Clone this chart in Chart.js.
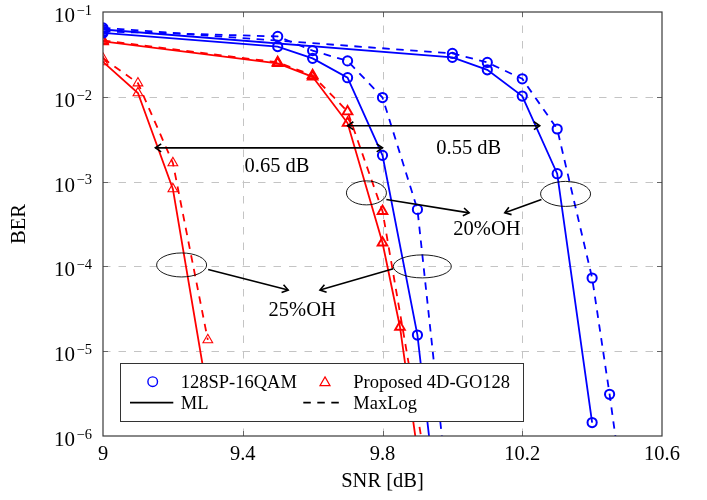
<!DOCTYPE html>
<html>
<head>
<meta charset="utf-8">
<script src="https://cdn.jsdelivr.net/npm/chart.js@4.4.1/dist/chart.umd.min.js"></script>
<style>
    html, body { margin: 0; padding: 0; background: #fff; }
    #wrap { width: 707px; height: 500px; }
</style>
</head>
<body>
<div id="wrap"><canvas id="berChart" width="707" height="500"></canvas></div>
<script>
// 128SP-16QAM, 25% OH
const snrSp25Ml = [9, 9.5, 9.6, 9.7, 9.8, 9.9, 9.95];
const berSp25Ml = [5.66e-2, 3.91e-2, 2.84e-2, 1.68e-2, 2.04e-3, 1.55e-5, 2.5e-7];
const snrSp25MaxLog = [9, 9.5, 9.6, 9.7, 9.8, 9.9, 10.0];
const berSp25MaxLog = [5.9e-2, 5.15e-2, 3.5e-2, 2.65e-2, 9.8e-3, 4.7e-4, 7e-8];

// 128SP-16QAM, 20% OH
const snrSp20Ml = [9, 10, 10.1, 10.2, 10.3, 10.4];
const berSp20Ml = [6.22e-2, 2.92e-2, 2.08e-2, 1.02e-2, 1.24e-3, 1.44e-6];
const snrSp20MaxLog = [9, 10, 10.1, 10.2, 10.3, 10.4, 10.45, 10.5];
const berSp20MaxLog = [6.5e-2, 3.25e-2, 2.54e-2, 1.63e-2, 4.17e-3, 7.3e-5, 3.1e-6, 1e-7];

// Proposed 4D-GO128, 25% OH
const snrGo25 = [9, 9.1, 9.2, 9.3];
const berGo25Ml = [2.58e-2, 1.11e-2, 8.2e-4, 3e-6];
const berGo25MaxLog = [2.84e-2, 1.45e-2, 1.66e-3, 1.36e-5];

// Proposed 4D-GO128, 20% OH
const snrGo20Ml = [9, 9.5, 9.6, 9.7, 9.8, 9.85, 9.9];
const berGo20Ml = [4.5e-2, 2.48e-2, 1.72e-2, 4.9e-3, 1.9e-4, 1.93e-5, 6.6e-7];
const snrGo20MaxLog = [9, 9.5, 9.6, 9.7, 9.8, 9.9, 9.95];
const berGo20MaxLog = [4.62e-2, 2.55e-2, 1.79e-2, 6.7e-3, 4.48e-4, 1.8e-6, 1e-7];

// axes
const xTicks = [9, 9.4, 9.8, 10.2, 10.6];
const xTickLabels = ['9', '9.4', '9.8', '10.2', '10.6'];
const yDecades = [-1, -2, -3, -4, -5, -6];

const BLUE = '#0000ff';
const RED = '#ff0000';
const FONT = '"Liberation Serif", "DejaVu Serif", serif';

// annotations: SNR gaps and overhead groups (data coordinates)
const gapArrows = [
    {text: '0.65 dB', from: 9.15, to: 9.8, ber: 2.5e-3, textX: 9.498, textBer: 1.54e-3},
    {text: '0.55 dB', from: 9.7, to: 10.25, ber: 4.56e-3, textX: 10.047, textBer: 2.51e-3},
];
const ohGroups = [
    {
        text: '20%OH', x: 10.099, ber: 2.78e-4,
        rings: [
            {x: 9.754, ber: 7.36e-4, rx: 20, ry: 12, fromX: 9.811, fromBer: 6.14e-4, toX: 10.048, toBer: 4.28e-4},
            {x: 10.324, ber: 7.16e-4, rx: 25, ry: 12.5, fromX: 10.255, fromBer: 6.14e-4, toX: 10.15, toBer: 4.28e-4},
        ]
    },
    {
        text: '25%OH', x: 9.57, ber: 3.12e-5,
        rings: [
            {x: 9.225, ber: 1.04e-4, rx: 25, ry: 12, fromX: 9.301, fromBer: 9.2e-5, toX: 9.53, toBer: 5.26e-5},
            {x: 9.914, ber: 1.0e-4, rx: 29, ry: 11.5, fromX: 9.831, fromBer: 9.4e-5, toX: 9.621, toBer: 5.26e-5},
        ]
    },
];

function series(label, snr, ber, color, dashed, pointStyle, markerWidth) {
    return {
        label: label,
        data: snr.map((x, i) => ({x: x, y: ber[i]})),
        borderColor: color,
        borderWidth: 1.8,
        borderDash: dashed ? [7.5, 6.5] : [],
        pointStyle: pointStyle,
        pointRadius: pointStyle === 'triangle' ? 5.6 : 4.6,
        pointBorderColor: color,
        pointBackgroundColor: 'rgba(0,0,0,0)',
        pointBorderWidth: markerWidth,
        fill: false,
        tension: 0,
    };
}

const datasets = [
    series('SP 25% ML', snrSp25Ml, berSp25Ml, BLUE, false, 'circle', 2),
    series('SP 25% MaxLog', snrSp25MaxLog, berSp25MaxLog, BLUE, true, 'circle', 2),
    series('SP 20% ML', snrSp20Ml, berSp20Ml, BLUE, false, 'circle', 2),
    series('SP 20% MaxLog', snrSp20MaxLog, berSp20MaxLog, BLUE, true, 'circle', 2),
    series('GO 25% ML', snrGo25, berGo25Ml, RED, false, 'triangle', 1.1),
    series('GO 25% MaxLog', snrGo25, berGo25MaxLog, RED, true, 'triangle', 1.1),
    series('GO 20% ML', snrGo20Ml, berGo20Ml, RED, false, 'triangle', 1.9),
    series('GO 20% MaxLog', snrGo20MaxLog, berGo20MaxLog, RED, true, 'triangle', 1.9),
];

function arrowHead(ctx, x, y, dx, dy) {
    const len = Math.hypot(dx, dy);
    const ux = dx / len, uy = dy / len;
    const size = 7, spread = 0.6;
    ctx.beginPath();
    ctx.moveTo(x - size * (ux * Math.cos(spread) - uy * Math.sin(spread)), y - size * (uy * Math.cos(spread) + ux * Math.sin(spread)));
    ctx.lineTo(x, y);
    ctx.lineTo(x - size * (ux * Math.cos(spread) + uy * Math.sin(spread)), y - size * (uy * Math.cos(spread) - ux * Math.sin(spread)));
    ctx.stroke();
}

function drawGrid(chart) {
    const {ctx, chartArea: a, scales: {x, y}} = chart;
    ctx.save();
    ctx.strokeStyle = '#c4c4c4';
    ctx.lineWidth = 1;
    ctx.setLineDash([7.5, 8]);
    xTicks.slice(1, -1).forEach(v => {
        const px = Math.round(x.getPixelForValue(v)) + 0.5;
        ctx.beginPath();
        ctx.moveTo(px, a.bottom);
        ctx.lineTo(px, a.top);
        ctx.stroke();
    });
    yDecades.slice(1, -1).forEach(d => {
        const py = Math.round(y.getPixelForValue(Math.pow(10, d))) + 0.5;
        ctx.beginPath();
        ctx.moveTo(a.left, py);
        ctx.lineTo(a.right, py);
        ctx.stroke();
    });
    ctx.restore();
}

function drawFrame(chart) {
    const {ctx, chartArea: a, scales: {x, y}} = chart;
    ctx.save();
    ctx.strokeStyle = '#666';
    ctx.lineWidth = 1;
    xTicks.slice(1, -1).forEach(v => {
        const px = Math.round(x.getPixelForValue(v)) + 0.5;
        ctx.beginPath();
        ctx.moveTo(px, a.bottom); ctx.lineTo(px, a.bottom - 5);
        ctx.moveTo(px, a.top); ctx.lineTo(px, a.top + 5);
        ctx.stroke();
    });
    yDecades.slice(1, -1).forEach(d => {
        const py = Math.round(y.getPixelForValue(Math.pow(10, d))) + 0.5;
        ctx.beginPath();
        ctx.moveTo(a.left, py); ctx.lineTo(a.left + 5, py);
        ctx.moveTo(a.right, py); ctx.lineTo(a.right - 5, py);
        ctx.stroke();
    });
    ctx.strokeStyle = '#3a3a3a';
    ctx.lineWidth = 1.2;
    ctx.strokeRect(a.left, a.top, a.right - a.left, a.bottom - a.top);
    ctx.restore();
}

function drawNotes(chart) {
    const {ctx, scales: {x, y}} = chart;
    ctx.save();
    ctx.strokeStyle = '#000';
    ctx.fillStyle = '#000';
    ctx.font = '20.5px ' + FONT;
    ctx.textAlign = 'center';
    ctx.textBaseline = 'alphabetic';

    gapArrows.forEach(g => {
        const x1 = x.getPixelForValue(g.from), x2 = x.getPixelForValue(g.to);
        const py = y.getPixelForValue(g.ber);
        ctx.lineWidth = 1.6;
        ctx.beginPath();
        ctx.moveTo(x1, py);
        ctx.lineTo(x2, py);
        ctx.stroke();
        arrowHead(ctx, x1, py, -1, 0);
        arrowHead(ctx, x2, py, 1, 0);
        ctx.fillText(g.text, x.getPixelForValue(g.textX), y.getPixelForValue(g.textBer) + 6.6);
    });

    ohGroups.forEach(g => {
        g.rings.forEach(r => {
            ctx.lineWidth = 0.9;
            ctx.beginPath();
            ctx.ellipse(x.getPixelForValue(r.x), y.getPixelForValue(r.ber), r.rx, r.ry, 0, 0, Math.PI * 2);
            ctx.stroke();
            const fx = x.getPixelForValue(r.fromX), fy = y.getPixelForValue(r.fromBer);
            const tx = x.getPixelForValue(r.toX), ty = y.getPixelForValue(r.toBer);
            ctx.lineWidth = 1.6;
            ctx.beginPath();
            ctx.moveTo(fx, fy);
            ctx.lineTo(tx, ty);
            ctx.stroke();
            arrowHead(ctx, tx, ty, tx - fx, ty - fy);
        });
        ctx.fillText(g.text, x.getPixelForValue(g.x), y.getPixelForValue(g.ber) + 6.6);
    });
    ctx.restore();
}

function drawLegendBox(chart) {
    const ctx = chart.ctx;
    const box = {left: 120.5, top: 363.5, right: 523.5, bottom: 421.5};
    const row1 = 381.7, row2 = 402.7;
    ctx.save();
    ctx.fillStyle = '#fff';
    ctx.fillRect(box.left, box.top, box.right - box.left, box.bottom - box.top);
    ctx.strokeStyle = '#333';
    ctx.lineWidth = 1;
    ctx.strokeRect(box.left, box.top, box.right - box.left, box.bottom - box.top);

    // markers
    ctx.strokeStyle = BLUE;
    ctx.lineWidth = 1.4;
    ctx.beginPath();
    ctx.arc(152.7, row1, 4.8, 0, Math.PI * 2);
    ctx.stroke();
    ctx.strokeStyle = RED;
    ctx.lineWidth = 1.2;
    const tr = 5.8, tx = 325, ty = row1 + 1;
    ctx.beginPath();
    ctx.moveTo(tx, ty - tr);
    ctx.lineTo(tx + tr * 0.866, ty + tr / 2);
    ctx.lineTo(tx - tr * 0.866, ty + tr / 2);
    ctx.closePath();
    ctx.stroke();

    // line styles
    ctx.strokeStyle = '#000';
    ctx.lineWidth = 1.8;
    ctx.beginPath();
    ctx.moveTo(130, row2);
    ctx.lineTo(173.3, row2);
    ctx.stroke();
    ctx.setLineDash([7.5, 6.5]);
    ctx.beginPath();
    ctx.moveTo(303.3, row2);
    ctx.lineTo(341.7, row2);
    ctx.stroke();
    ctx.setLineDash([]);

    ctx.fillStyle = '#000';
    ctx.font = '18.5px ' + FONT;
    ctx.textAlign = 'left';
    ctx.textBaseline = 'alphabetic';
    ctx.fillText('128SP-16QAM', 180.7, row1 + 6);
    ctx.fillText('Proposed 4D-GO128', 353.3, row1 + 6);
    ctx.fillText('ML', 180.7, row2 + 6);
    ctx.fillText('MaxLog', 353.3, row2 + 6);
    ctx.restore();
}

function drawAxisText(chart) {
    const {ctx, chartArea: a, scales: {x, y}} = chart;
    ctx.save();
    ctx.fillStyle = '#000';
    ctx.textBaseline = 'alphabetic';

    ctx.font = '20.5px ' + FONT;
    ctx.textAlign = 'center';
    xTicks.forEach((v, i) => {
        ctx.fillText(xTickLabels[i], x.getPixelForValue(v), 460);
    });

    yDecades.forEach(d => {
        const py = y.getPixelForValue(Math.pow(10, d));
        const sup = '\u2212' + Math.abs(d);
        ctx.font = '14.5px ' + FONT;
        ctx.textAlign = 'right';
        ctx.fillText(sup, 92, py + 2.7);
        const supW = ctx.measureText(sup).width;
        ctx.font = '21px ' + FONT;
        ctx.fillText('10', 92 - supW - 1.5, py + 9.9);
    });

    ctx.font = '20.5px ' + FONT;
    ctx.textAlign = 'center';
    ctx.fillText('SNR [dB]', (a.left + a.right) / 2, 486.6);

    ctx.translate(18, (a.top + a.bottom) / 2);
    ctx.rotate(-Math.PI / 2);
    ctx.fillText('BER', 0, 6.6);
    ctx.restore();
}

const berDecor = {
    id: 'berDecor',
    beforeDatasetsDraw(chart) {
        drawGrid(chart);
    },
    afterDatasetsDraw(chart) {
        drawFrame(chart);
        drawNotes(chart);
        drawLegendBox(chart);
        drawAxisText(chart);
    },
};

const berCtx = document.getElementById('berChart').getContext('2d');
const berChart = new Chart(berCtx, {
    type: 'line',
    data: {datasets: datasets},
    options: {
        responsive: false,
        animation: false,
        devicePixelRatio: 1,
        layout: {padding: {left: 103, right: 45, top: 12, bottom: 64}},
        plugins: {
            legend: {display: false},
            tooltip: {enabled: false},
        },
        scales: {
            x: {type: 'linear', min: 9, max: 10.6, display: false},
            y: {type: 'logarithmic', min: 1e-6, max: 1e-1, display: false},
        },
    },
    plugins: [berDecor],
});
</script>
</body>
</html>
